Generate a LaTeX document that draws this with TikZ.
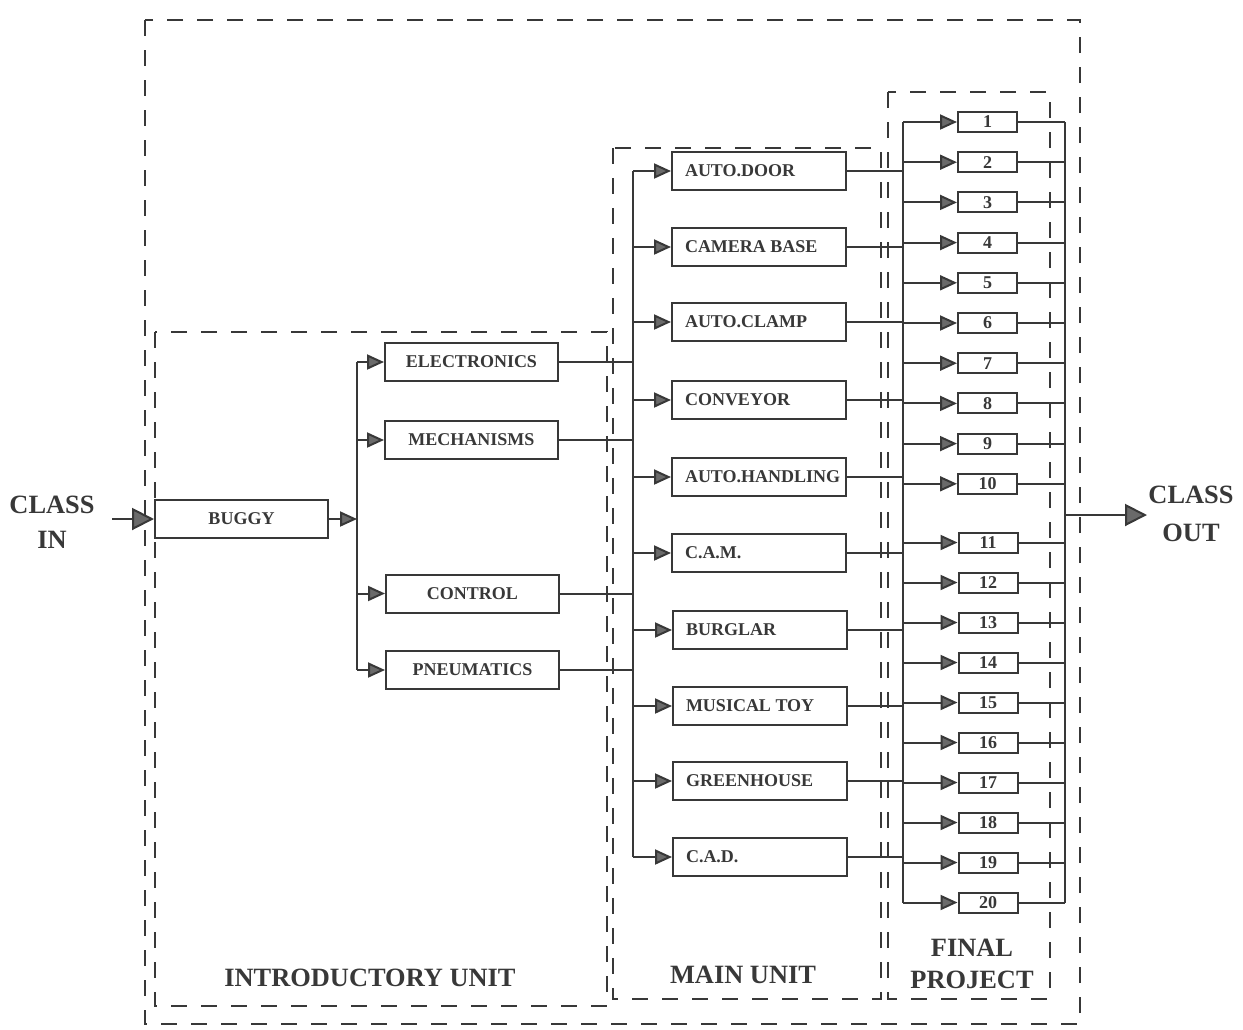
\documentclass[tikz,border=0pt]{standalone}
\usepackage{fontspec}
\setmainfont{Liberation Serif}
\usetikzlibrary{arrows.meta}
\definecolor{ink}{HTML}{383838}
\definecolor{tipc}{HTML}{6A6A6A}
\newcommand\mlab[1]{\makebox[74pt][l]{#1}}
\begin{document}
\begin{tikzpicture}[x=0.5pt,y=-0.5pt,
 ln/.style={draw=ink,line width=1pt},
 arr/.style={ln,-{Triangle[length=8.5pt,width=7.5pt,fill=tipc]}},
 bigarr/.style={ln,-{Triangle[length=11pt,width=11pt,fill=tipc]}},
 dsh/.style={draw=ink,line width=0.9pt,dash pattern=on 8pt off 7pt},
 box/.style={draw=ink,line width=1pt,fill=white,inner sep=0pt,text=ink,font=\bfseries\fontsize{9}{10}\selectfont},
 ibox/.style={box,minimum width=86.5pt,minimum height=19pt},
 mbox/.style={box,minimum width=87pt,minimum height=19pt},
 finbox/.style={box,minimum width=29.5pt,minimum height=10pt},
 big/.style={text=ink,font=\bfseries\fontsize{13.2}{17.5}\selectfont,align=center,inner sep=0pt}
]
\useasboundingbox (0,0) rectangle (1243,1029);
% dashed unit frames
\draw[dsh] (145,20) rectangle (1080,1024);
\draw[dsh] (155,332) rectangle (607,1006);
\draw[dsh] (613,148) rectangle (881,999);
\draw[dsh] (888,92) rectangle (1050,999);
% bus coordinates
\coordinate (b1) at (357,519);
\coordinate (b2) at (633,500);
\coordinate (b3) at (903,500);
\coordinate (b4) at (1065,515);
\coordinate (instart) at (112,519);
\coordinate (outtip) at (1147,515);
% labels
\node[big] (cin) at (52,522) {CLASS\\IN};
\node[big,font=\bfseries\fontsize{13.2}{19}\selectfont] (cout) at (1191,514) {CLASS\\OUT};
\node[big] (intro) at (370,978) {INTRODUCTORY UNIT};
\node[big] (mainl) at (743,975) {MAIN UNIT};
\node[big,font=\bfseries\fontsize{13.2}{16}\selectfont] (finl) at (972,964) {FINAL\\PROJECT};
% introductory unit
\node[ibox] (buggy) at (241.5,519) {BUGGY};
\node[ibox] (elec) at (471.5,362) {ELECTRONICS};
\node[ibox] (mech) at (471.5,440) {MECHANISMS};
\node[ibox] (ctrl) at (472.5,593.5) {CONTROL};
\node[ibox] (pneu) at (472.5,670) {PNEUMATICS};
% main unit
\node[mbox] (ad) at (759,171) {\mlab{AUTO.DOOR}};
\node[mbox] (cb) at (759,247) {\mlab{CAMERA BASE}};
\node[mbox] (acl) at (759,322) {\mlab{AUTO.CLAMP}};
\node[mbox] (conv) at (759,400) {\mlab{CONVEYOR}};
\node[mbox] (ah) at (759,477) {\mlab{AUTO.HANDLING}};
\node[mbox] (cam) at (759,553) {\mlab{C.A.M.}};
\node[mbox] (burg) at (760,630) {\mlab{BURGLAR}};
\node[mbox] (mt) at (760,706) {\mlab{MUSICAL TOY}};
\node[mbox] (gh) at (760,781) {\mlab{GREENHOUSE}};
\node[mbox] (cad) at (760,857) {\mlab{C.A.D.}};
% final project
\foreach \k in {1,...,10}{
  \pgfmathsetmacro\yy{122+40.2*(\k-1)}
  \node[finbox] (f\k) at (987.5,\yy) {\k};
}
\foreach \k in {11,...,20}{
  \pgfmathsetmacro\yy{542.5+40*(\k-11)}
  \node[finbox] (f\k) at (988,\yy) {\k};
}
% connectors
\draw[bigarr] (instart) -- (buggy.west);
\draw[arr] (buggy.east) -- (b1);
\draw[ln] (b1 |- elec.west) -- (b1 |- pneu.west);
\foreach \n in {elec,mech,ctrl,pneu}{
  \draw[arr] (b1 |- \n.west) -- (\n.west);
  \draw[ln] (\n.east) -- (\n.east -| b2);
}
\draw[ln] (b2 |- ad.west) -- (b2 |- cad.west);
\foreach \n in {ad,cb,acl,conv,ah,cam,burg,mt,gh,cad}{
  \draw[arr] (b2 |- \n.west) -- (\n.west);
  \draw[ln] (\n.east) -- (\n.east -| b3);
}
\draw[ln] (b3 |- f1.west) -- (b3 |- f20.west);
\draw[ln] (b4 |- f1.east) -- (b4 |- f20.east);
\foreach \k in {1,...,20}{
  \draw[arr] (b3 |- f\k.west) -- (f\k.west);
  \draw[ln] (f\k.east) -- (f\k.east -| b4);
}
\draw[bigarr] (b4) -- (outtip);
\end{tikzpicture}
\end{document}
